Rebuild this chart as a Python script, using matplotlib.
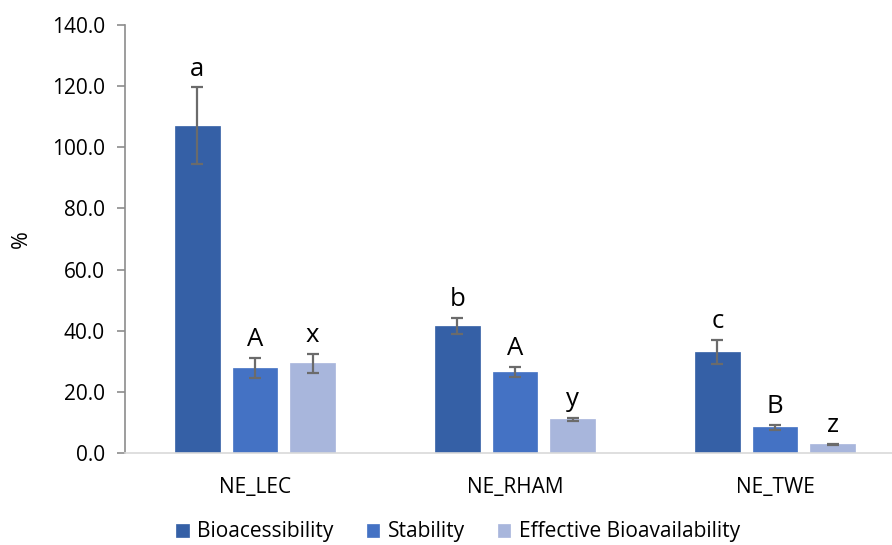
import matplotlib
matplotlib.use("Agg")
import matplotlib.pyplot as plt
import numpy as np

categories = ["NE_LEC", "NE_RHAM", "NE_TWE"]
series_names = ["Bioacessibility", "Stability", "Effective Bioavailability"]
bioaccessibility = [107.1, 41.6, 33.1]
bioaccessibility_err = [12.5, 2.6, 4.0]
stability = [27.7, 26.4, 8.4]
stability_err = [3.3, 1.7, 0.8]
effective = [29.3, 11.0, 2.8]
effective_err = [3.1, 0.4, 0.3]
letters_bio = ["a", "b", "c"]
letters_stab = ["A", "A", "B"]
letters_eff = ["x", "y", "z"]
yticks = [0, 20, 40, 60, 80, 100, 120, 140]

colors = ["#3560A6", "#4472C4", "#A8B6DC"]

plt.rcParams['font.family'] = ['Open Sans', 'DejaVu Sans']

fig = plt.figure(figsize=(8.92, 5.45), dpi=100)
W, H = 892, 545
left_px, right_px, bottom_px, top_px = 125, 905, 453, 25
ax = fig.add_axes([left_px / W, 1 - bottom_px / H, (right_px - left_px) / W, (bottom_px - top_px) / H])

x = np.arange(len(categories))
width = 0.173
step = 0.222
series = [(bioaccessibility, bioaccessibility_err, letters_bio),
          (stability, stability_err, letters_stab),
          (effective, effective_err, letters_eff)]
for i, (vals, errs, labs) in enumerate(series):
    pos = x + (i - 1) * step
    ax.bar(pos, vals, width, color=colors[i], label=series_names[i],
           edgecolor=colors[i], linewidth=0.5, zorder=2)
    ax.errorbar(pos, vals, yerr=errs, fmt='none', ecolor='#6b6b6b',
                elinewidth=1.6, capsize=4.2, capthick=1.6, zorder=3)
    for p, v, e, l in zip(pos, vals, errs, labs):
        ax.annotate(l, (p, v + e), xytext=(0, 8.5), textcoords='offset points',
                    ha='center', va='baseline', fontsize=18.5, color='black')

ax.set_xlim(-0.5, 2.5)
ax.set_ylim(0, 140)
ax.set_yticks(yticks)
ax.set_yticklabels([f"{t:.1f}" for t in yticks])
ax.set_xticks(x)
ax.set_xticklabels(categories)

for s in ['top', 'right']:
    ax.spines[s].set_visible(False)
ax.spines['left'].set_color('#8c8c8c')
ax.spines['left'].set_linewidth(1.2)
ax.spines['bottom'].set_color('#d9d9d9')
ax.spines['bottom'].set_linewidth(1.2)

ax.tick_params(axis='y', length=6, width=1.2, color='#8c8c8c', labelsize=15, pad=8.5, labelcolor='black')
ax.tick_params(axis='x', length=0, labelsize=15, pad=17, labelcolor='black')

fig.text(21.5 / W, 1 - 239 / H, "%", rotation=90, ha='center', va='center', fontsize=15.5)

handles, labels = ax.get_legend_handles_labels()
leg = fig.legend(handles, labels, loc='center', bbox_to_anchor=(458 / W, 1 - 532 / H),
                 ncol=3, frameon=False, fontsize=15, handlelength=0.6, handleheight=0.6,
                 handletextpad=0.4, columnspacing=1.6, borderaxespad=0, borderpad=0)

fig.savefig("out.png", dpi=100)
